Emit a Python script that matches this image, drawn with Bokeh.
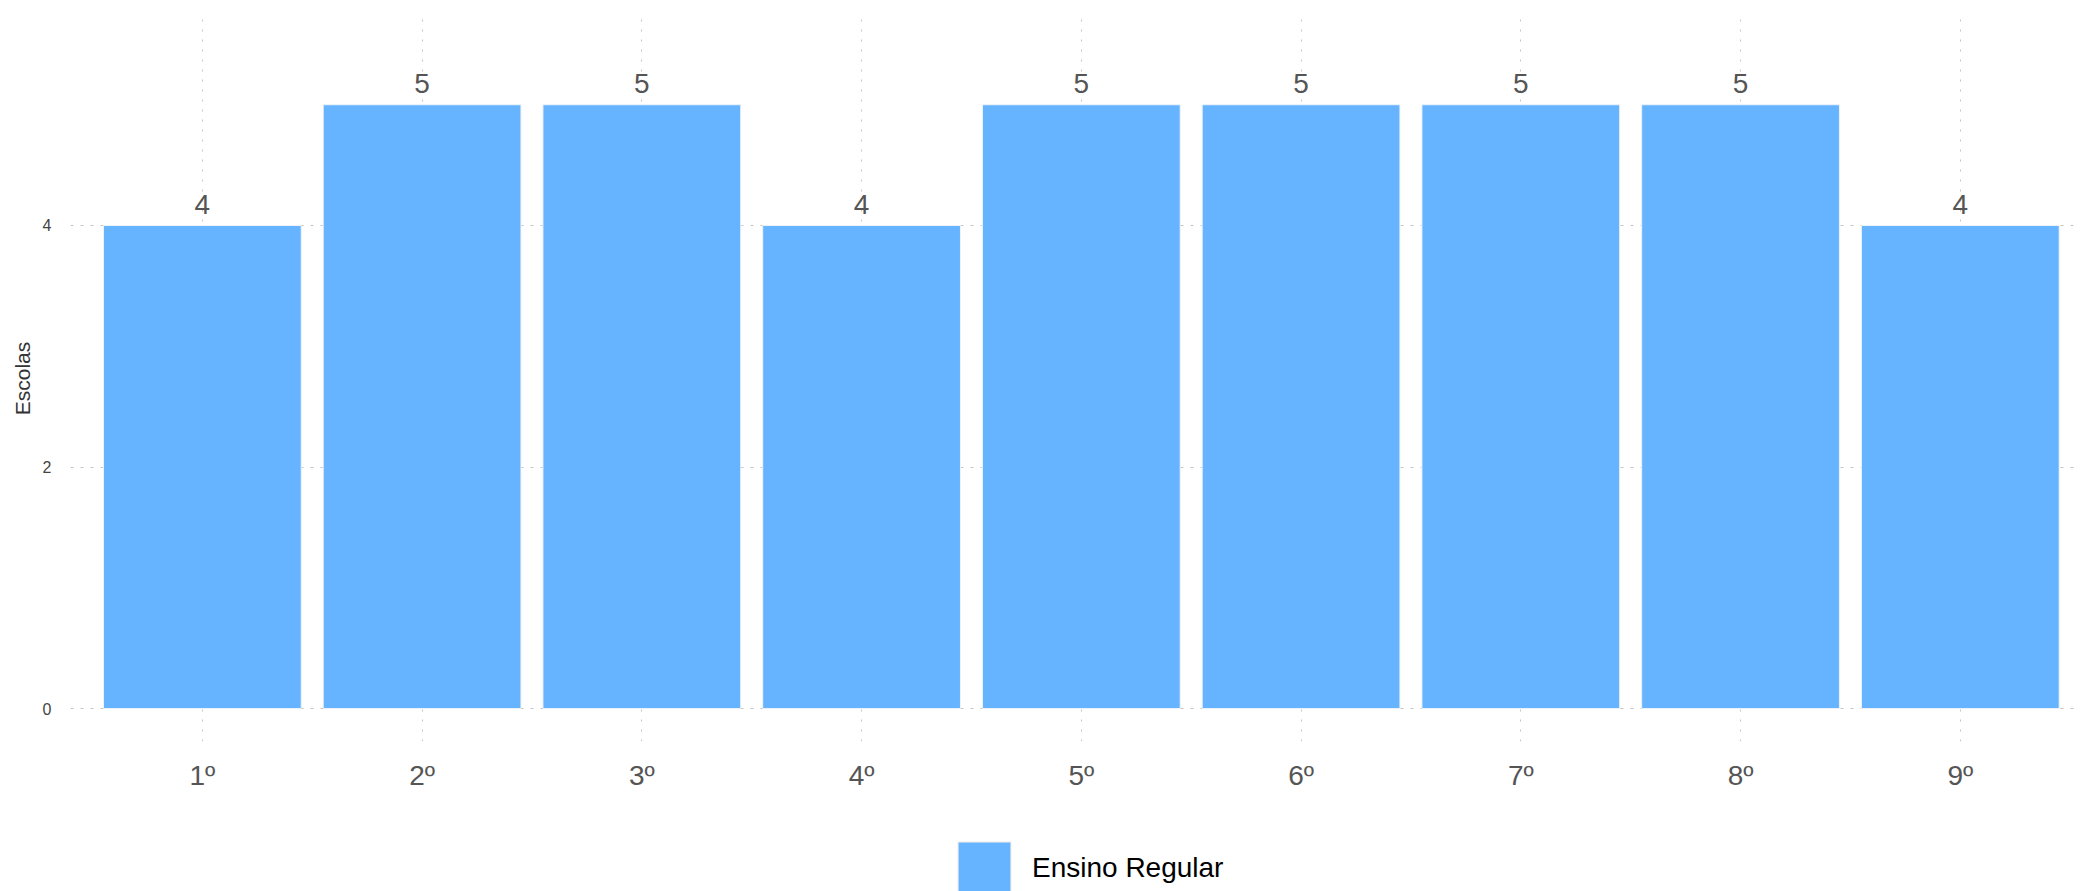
from bokeh.plotting import figure
from bokeh.layouts import column
from bokeh.models import (ColumnDataSource, Range1d, FixedTicker, Legend, LegendItem)
from bokeh.core.properties import value
from bokeh.embed import file_html
from bokeh.resources import INLINE

# Data
categories = ["1º", "2º", "3º", "4º", "5º", "6º", "7º", "8º", "9º"]
escolas = [4, 5, 5, 4, 5, 5, 5, 5, 4]
series_name = "Ensino Regular"
y_ticks = [0, 2, 4]

FONT = "Liberation Sans"
BAR = "#66B3FF"
BAR_LINE = "#eef3f8"

xs = list(range(1, len(categories) + 1))
src = ColumnDataSource(dict(x=xs, top=escolas, lbl=[str(v) for v in escolas]))

W = 2080
p = figure(width=W, height=834, output_backend="svg", toolbar_location=None,
           x_range=Range1d(0.4, 9.547), y_range=Range1d(-0.273, 5.739),
           min_border_left=70, min_border_right=0, min_border_top=15, min_border_bottom=93)
p.outline_line_color = None

bars = p.vbar(x="x", top="top", bottom=0, width=0.9, source=src,
              fill_color=BAR, line_color=BAR_LINE, line_width=1)

p.text(x="x", y="top", text="lbl", source=src, text_align="center",
       text_baseline="alphabetic", y_offset=-21, text_font=value(FONT),
       text_font_size="28px", text_color="#555555")

# axes
p.xaxis.ticker = FixedTicker(ticks=xs)
p.xaxis.major_label_overrides = {x: c for x, c in zip(xs, categories)}
p.xaxis.major_label_text_font = FONT
p.xaxis.major_label_text_font_size = "28px"
p.xaxis.major_label_text_color = "#555555"
p.xaxis.major_label_standoff = 12
p.xaxis.axis_line_color = None
p.xaxis.major_tick_line_color = None
p.xaxis.minor_tick_line_color = None

p.yaxis.ticker = FixedTicker(ticks=y_ticks)
p.yaxis.axis_label = "Escolas"
p.yaxis.axis_label_text_font = FONT
p.yaxis.axis_label_text_font_style = "normal"
p.yaxis.axis_label_text_font_size = "21px"
p.yaxis.axis_label_text_color = "#333333"
p.yaxis.axis_label_standoff = 6
p.yaxis.major_label_text_font = FONT
p.yaxis.major_label_text_font_size = "16px"
p.yaxis.major_label_text_color = "#444444"
p.yaxis.major_label_standoff = 13
p.yaxis.axis_line_color = None
p.yaxis.major_tick_line_color = None
p.yaxis.minor_tick_line_color = None

# grids
p.xgrid.ticker = FixedTicker(ticks=xs)
p.xgrid.grid_line_color = "#c4c4c4"
p.xgrid.grid_line_dash = "2 8"
p.ygrid.ticker = FixedTicker(ticks=y_ticks)
p.ygrid.grid_line_color = "#c4c4c4"
p.ygrid.grid_line_dash = "3 7"

# legend strip below the chart (its proxy bars lie outside the visible range)
lg = figure(width=W, height=57, output_backend="svg", toolbar_location=None,
            x_range=Range1d(-2, -1), y_range=Range1d(-2, -1),
            min_border_left=0, min_border_right=0, min_border_top=0, min_border_bottom=0)
lg.outline_line_color = None
lg.axis.visible = False
lg.grid.visible = False
swatch = lg.vbar(x="x", top="top", width=0.9, source=src,
                 fill_color=BAR, line_color="#e6e6e6", line_width=1)
legend = Legend(items=[LegendItem(label=series_name, renderers=[swatch])],
                location=(881, -10), orientation="horizontal",
                glyph_width=66, glyph_height=66, label_height=66,
                label_standoff=15, label_text_font=FONT, label_text_font_size="28px",
                label_text_color="black", padding=0, margin=0, spacing=0,
                border_line_color=None, background_fill_alpha=0)
lg.add_layout(legend, "center")

layout = column(p, lg, spacing=0)
open("out.html", "w").write(file_html(layout, INLINE))
